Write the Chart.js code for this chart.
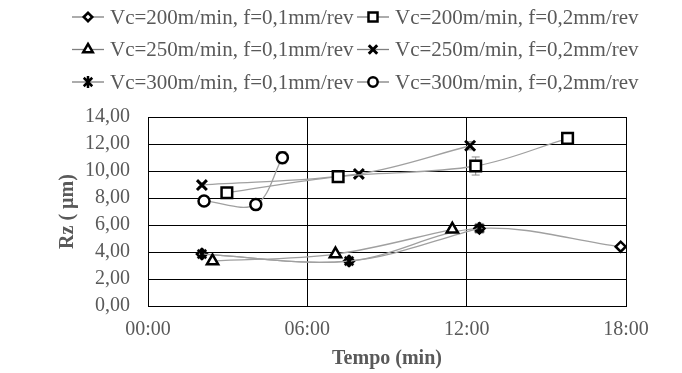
<!DOCTYPE html>
<html>
<head>
<meta charset="utf-8">
<script src="https://cdn.jsdelivr.net/npm/chart.js@4.4.1/dist/chart.umd.min.js"></script>
<style>
  html, body { margin: 0; padding: 0; background: #fff; }
  canvas { display: block; }
</style>
</head>
<body>
<canvas id="rzChart" width="682" height="373"></canvas>
<script>
// series labels (legend order, row by row)
const seriesLabels = [
  'Vc=200m/min, f=0,1mm/rev',
  'Vc=200m/min, f=0,2mm/rev',
  'Vc=250m/min, f=0,1mm/rev',
  'Vc=250m/min, f=0,2mm/rev',
  'Vc=300m/min, f=0,1mm/rev',
  'Vc=300m/min, f=0,2mm/rev',
];

// time (min) and Rz (µm)
const t200f1 = [2.03, 7.57, 12.48, 17.8];
const rz200f1 = [3.85, 3.33, 5.75, 4.39];
const t200f2 = [2.97, 7.16, 12.34, 15.8];
const rz200f2 = [8.39, 9.58, 10.37, 12.42];
const t250f1 = [2.43, 7.06, 11.46];
const rz250f1 = [3.33, 3.85, 5.68];
const t250f2 = [2.03, 7.94, 12.13];
const rz250f2 = [8.96, 9.78, 11.87];
const t300f1 = [2.03, 7.57, 12.48];
const rz300f1 = [3.85, 3.33, 5.75];
const t300f2 = [2.11, 4.06, 5.06];
const rz300f2 = [7.78, 7.51, 10.99];

// error bar half-heights (µm)
const err200f1 = [0.1, 0.1, 0.1, 0.1];
const err200f2 = [0.15, 0.15, 0.67, 0.15];
const err250f1 = [0.1, 0.1, 0.1];
const err250f2 = [0.15, 0.15, 0.3];
const err300f1 = [0.1, 0.1, 0.1];
const err300f2 = [0.15, 0.15, 0.45];

const xTicks = [0, 6, 12, 18];
const yTicks = [0, 2, 4, 6, 8, 10, 12, 14];

function toPoints(xs, ys) {
  return xs.map((x, i) => ({ x: x, y: ys[i] }));
}

// Excel's asterisk marker: an X with a vertical stroke
function makeStarMarker(size, lw) {
  const c = document.createElement('canvas');
  c.width = size;
  c.height = size;
  const g = c.getContext('2d');
  const m = lw / 2 + 0.5;
  g.strokeStyle = '#000';
  g.lineWidth = lw;
  g.beginPath();
  g.moveTo(m, m); g.lineTo(size - m, size - m);
  g.moveTo(size - m, m); g.lineTo(m, size - m);
  g.moveTo(size / 2, 0); g.lineTo(size / 2, size);
  g.stroke();
  return c;
}
const starMarker = makeStarMarker(12, 2.5);

function makeSeries(i, xs, ys, errs, style, radius, bw, order) {
  return {
    label: seriesLabels[i],
    data: toPoints(xs, ys),
    errorBars: errs,
    order: order,
    borderColor: '#a0a0a0',
    borderWidth: 1.3,
    tension: 0.35,
    pointStyle: style,
    pointRadius: radius,
    pointHoverRadius: radius,
    pointBorderColor: '#000',
    pointBackgroundColor: '#fff',
    pointBorderWidth: bw,
  };
}

// vertical error bars, drawn under the markers
const errorBarPlugin = {
  id: 'errorBars',
  beforeDatasetsDraw(chart) {
    const ctx = chart.ctx;
    const xs = chart.scales.x, ys = chart.scales.y;
    ctx.save();
    ctx.strokeStyle = '#8c8c8c';
    ctx.lineWidth = 1;
    chart.data.datasets.forEach(ds => {
      ds.data.forEach((p, i) => {
        const e = ds.errorBars[i];
        const px = xs.getPixelForValue(p.x);
        const top = ys.getPixelForValue(p.y + e);
        const bot = ys.getPixelForValue(p.y - e);
        ctx.beginPath();
        ctx.moveTo(px, top); ctx.lineTo(px, bot);
        ctx.moveTo(px - 4, top); ctx.lineTo(px + 4, top);
        ctx.moveTo(px - 4, bot); ctx.lineTo(px + 4, bot);
        ctx.stroke();
      });
    });
    ctx.restore();
  }
};

// Excel-like legend: line - marker - line, two columns, three rows
const legendPlugin = {
  id: 'excelLegend',
  afterDraw(chart) {
    const ctx = chart.ctx;
    ctx.save();
    chart.data.datasets.forEach((ds, i) => {
      const col = i % 2, row = Math.floor(i / 2);
      const x0 = col === 0 ? 72 : 357;
      const y = 17 + row * 32.5;
      ctx.strokeStyle = '#7f7f7f';
      ctx.lineWidth = 1.3;
      ctx.beginPath();
      ctx.moveTo(x0, y); ctx.lineTo(x0 + 32, y);
      ctx.stroke();
      ctx.strokeStyle = '#000';
      ctx.fillStyle = '#fff';
      ctx.lineWidth = ds.pointBorderWidth;
      Chart.helpers.drawPoint(ctx, {
        pointStyle: ds.pointStyle,
        radius: ds.pointRadius * 0.85,
        borderWidth: ds.pointBorderWidth,
        rotation: 0,
      }, x0 + 16, y);
      ctx.fillStyle = '#595959';
      ctx.font = '21px "Liberation Serif"';
      ctx.textBaseline = 'middle';
      ctx.textAlign = 'left';
      ctx.fillText(ds.label, x0 + 38, y + 1);
    });
    ctx.restore();
  }
};

const ctx = document.getElementById('rzChart').getContext('2d');
const chart = new Chart(ctx, {
  type: 'line',
  data: {
    datasets: [
      makeSeries(0, t200f1, rz200f1, err200f1, 'rectRot', 5, 2.5, 1),
      makeSeries(1, t200f2, rz200f2, err200f2, 'rect', 7.5, 2.5, 0),
      makeSeries(2, t250f1, rz250f1, err250f1, 'triangle', 6.5, 2.5, 0),
      makeSeries(3, t250f2, rz250f2, err250f2, 'crossRot', 7, 3, 0),
      makeSeries(4, t300f1, rz300f1, err300f1, starMarker, 6, 2.5, 0),
      makeSeries(5, t300f2, rz300f2, err300f2, 'circle', 5.5, 2.5, 0),
    ],
  },
  options: {
    responsive: false,
    animation: false,
    layout: { padding: { top: 117, right: 56, left: 0, bottom: 0 } },
    plugins: {
      legend: { display: false },
      tooltip: { enabled: false },
    },
    scales: {
      x: {
        type: 'linear',
        min: 0,
        max: 18,
        afterFit: s => { s.height = 67; },
        afterBuildTicks: s => { s.ticks = xTicks.map(v => ({ value: v })); },
        ticks: {
          padding: 12,
          color: '#595959',
          font: { family: 'Liberation Serif', size: 20 },
          callback: v => String(v).padStart(2, '0') + ':00',
        },
        grid: { color: '#000', lineWidth: 1, drawTicks: false },
        border: { color: '#000', width: 1 },
        title: {
          display: true,
          text: 'Tempo (min)',
          color: '#595959',
          font: { family: 'Liberation Serif', size: 20, weight: 'bold' },
          padding: { top: 0, bottom: 2 },
        },
      },
      y: {
        min: 0,
        max: 14,
        afterFit: s => { s.width = 148; },
        afterBuildTicks: s => { s.ticks = yTicks.map(v => ({ value: v })); },
        ticks: {
          padding: 18,
          color: '#595959',
          font: { family: 'Liberation Serif', size: 20 },
          callback: v => v.toFixed(2).replace('.', ','),
        },
        grid: { color: '#000', lineWidth: 1, drawTicks: false },
        border: { color: '#000', width: 1 },
        title: {
          display: true,
          text: 'Rz ( µm)',
          color: '#595959',
          font: { family: 'Liberation Serif', size: 20, weight: 'bold' },
          padding: { top: 56, bottom: 0 },
        },
      },
    },
  },
  plugins: [errorBarPlugin, legendPlugin],
});
</script>
</body>
</html>
